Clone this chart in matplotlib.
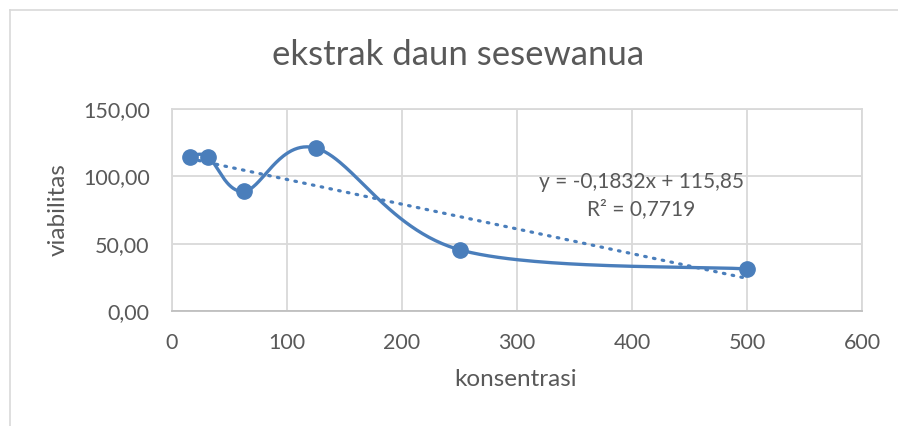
import numpy as np
import matplotlib
matplotlib.use('Agg')
from matplotlib import pyplot as plt
from matplotlib.lines import Line2D

plt.rcParams['font.family'] = ['Lato', 'DejaVu Sans']

# data
konsentrasi = [15.625, 31.25, 62.5, 125, 250, 500]
viabilitas = [114.3, 114.6, 88.8, 121.0, 45.5, 31.2]
x_ticks = [0, 100, 200, 300, 400, 500, 600]
y_ticks = [0, 50, 100, 150]
eq_text = 'y = -0,1832x + 115,85'
r2_text = 'R² = 0,7719'

blue = '#4a7ebb'
grey_text = '#595959'
grid_col = '#d9d9d9'


def smooth_line(xs, ys, n=60):
    # excel style smoothed line (catmull-rom as bezier pieces)
    p = np.column_stack([xs, ys]).astype(float)
    p = np.vstack([p[0], p, p[-1]])
    t = np.linspace(0, 1, n)[:, None]
    out = []
    for i in range(1, len(p) - 2):
        p0, p1, p2, p3 = p[i - 1], p[i], p[i + 1], p[i + 2]
        c1 = p1 + (p2 - p0) / 6
        c2 = p2 - (p3 - p1) / 6
        seg = ((1 - t) ** 3) * p1 + 3 * ((1 - t) ** 2) * t * c1 \
            + 3 * (1 - t) * t ** 2 * c2 + t ** 3 * p2
        out.append(seg)
    out = np.vstack(out)
    return out[:, 0], out[:, 1]


fig = plt.figure(figsize=(8.98, 4.26), dpi=100)
ax = fig.add_axes([172 / 898, 1 - 311 / 426, 690 / 898, 202 / 426])

# chart frame (left and top border visible)
fig.add_artist(Line2D([9.5 / 898, 9.5 / 898], [0, 1 - 10 / 426], color=grid_col, lw=1.2))
fig.add_artist(Line2D([9.5 / 898, 1], [1 - 10 / 426, 1 - 10 / 426], color=grid_col, lw=1.2))

sx, sy = smooth_line(konsentrasi, viabilitas)
ax.plot(sx, sy, color=blue, lw=2.4, zorder=3)
ax.plot(konsentrasi, viabilitas, 'o', color=blue, markersize=11, zorder=4)

# linear trendline
slope, intercept = np.polyfit(konsentrasi, viabilitas, 1)
tx = np.array([konsentrasi[0], konsentrasi[-1]])
ax.plot(tx, slope * tx + intercept, color=blue, lw=2.3,
        linestyle=(0, (0.5, 2.3)), dash_capstyle='round', zorder=3)

ax.text(408, 96, eq_text, ha='center', va='center', fontsize=15, color=grey_text)
ax.text(408, 76, r2_text, ha='center', va='center', fontsize=15, color=grey_text)

ax.set_xlim(0, 600)
ax.set_ylim(0, 150)
ax.set_xticks(x_ticks)
ax.set_yticks(y_ticks)
ax.set_yticklabels([('%.2f' % v).replace('.', ',') for v in y_ticks])
ax.tick_params(length=0, labelsize=15.5, labelcolor=grey_text)
ax.tick_params(axis='y', pad=16)
ax.tick_params(axis='x', pad=16)
ax.grid(True, color=grid_col, lw=1.3)
ax.set_axisbelow(True)
for s in ['top', 'right', 'left']:
    ax.spines[s].set_color(grid_col)
    ax.spines[s].set_linewidth(1.3)
ax.spines['bottom'].set_color('#bfbfbf')
ax.spines['bottom'].set_linewidth(1.3)

ax.set_xlabel('konsentrasi', fontsize=17.5, color=grey_text, va='center')
ax.set_ylabel('viabilitas', fontsize=17.5, color=grey_text, va='center')
ax.xaxis.set_label_coords((516 - 172) / 690, (311 - 380) / 202)
ax.yaxis.set_label_coords((58 - 172) / 690, 0.5)
fig.text(458 / 898, 1 - 55 / 426, 'ekstrak daun sesewanua', ha='center', va='center',
         fontsize=25, color=grey_text)

plt.savefig('out.png', dpi=100)
